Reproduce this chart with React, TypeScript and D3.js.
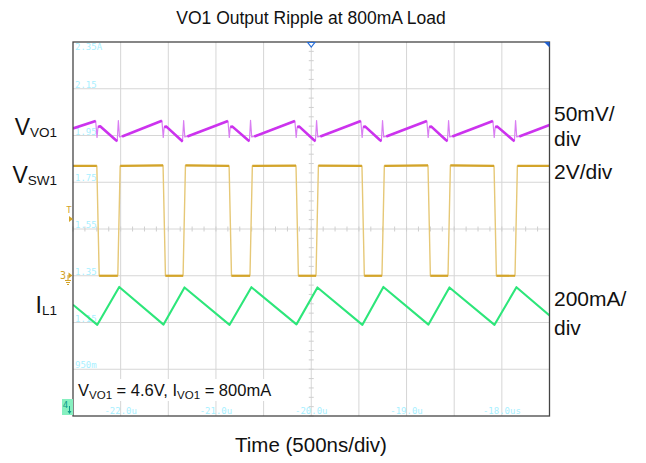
import React from "react";
import * as d3 from "d3";

// ---------- data ----------
const title = "VO1 Output Ripple at 800mA Load";
const xAxisTitle = "Time (500ns/div)";
const timeTicks = ["-22.0u", "-21.0u", "-20.0u", "-19.0u", "-18.0us"];
const timeTickDiv = [1, 3, 5, 7, 9];
const levelTicks = ["2.35A", "2.15", "1.95", "1.75", "1.55", "1.35", "1.15", "950m"];

// time window (ns)
const timeDomain = [-22500, -17500];

// switch node (V) : falling / rising edges in ns
const swFallNs = [-22250, -21555, -20862, -20160, -19468, -18775, -18082];
const swRiseNs = [-22030, -21345, -20643, -19950, -19258, -18565, -17862];
const swHighV = [4.7, 4.72, 4.7, 4.71, 4.7, 4.72, 4.7];
const swLowV = [0.0, 0.0, 0.0, 0.0, 0.0, 0.0, 0.0];

// inductor current (A)
const ilStart = [-22500, 1.226];
const ilValleyA = [1.14, 1.141, 1.14, 1.142, 1.14, 1.141, 1.14];
const ilPeakA = [1.302, 1.3, 1.301, 1.3, 1.302, 1.3, 1.301];
const ilEnd = [-17500, 1.18];

// output ripple (mV, AC): one row per switching cycle
// [peak before fall, dip spike, after fall, hump, low, min, spike up, after spike, ramp start]
const vo1Start: [number, number] = [-22500, 2.5];
const vo1Cycles: [number, number][][] = [
  [[-22262, 10.5], [-22248, -7], [-22238, 4], [-22215, 4.8], [-22055, -9.5], [-22036, -11], [-22024, 11], [-22012, -6.5], [-21985, -6]],
  [[-21567, 10.8], [-21553, -7], [-21543, 4], [-21520, 4.5], [-21370, -9.5], [-21351, -11.5], [-21339, 11], [-21327, -6.5], [-21300, -6]],
  [[-20874, 10.5], [-20860, -7], [-20850, 4], [-20827, 4.5], [-20668, -9.5], [-20649, -11], [-20637, 11.2], [-20625, -6.5], [-20598, -6]],
  [[-20172, 10.6], [-20158, -7], [-20148, 4], [-20125, 4.5], [-19975, -9.5], [-19956, -11], [-19944, 11], [-19932, -6.5], [-19905, -6]],
  [[-19480, 10.5], [-19466, -7], [-19456, 4], [-19433, 4.5], [-19283, -9.5], [-19264, -11], [-19252, 11], [-19240, -6.5], [-19213, -6]],
  [[-18787, 10.5], [-18773, -7], [-18763, 4], [-18740, 4.5], [-18590, -9.5], [-18571, -11], [-18559, 11], [-18547, -6.5], [-18520, -6]],
  [[-18094, 10.5], [-18080, -7], [-18070, 4], [-18047, 4.5], [-17887, -9.5], [-17868, -11], [-17856, 11], [-17844, -6.5], [-17817, -6]],
];
const vo1End: [number, number] = [-17500, 6.2];

// channel vertical settings
const ilDomain = [0.75, 2.35]; // 200mA/div
const swDomain = [-6, 10]; // 2V/div, zero at -1 div
const vo1Domain = [-305, 95]; // 50mV/div

// ---------- layout ----------
const W = 646;
const H = 463;
const L = 73;
const R = 549.5;
const T = 42;
const B = 416;
const FONT = "'Liberation Sans', Arial, Helvetica, sans-serif";
const MONO = "'DejaVu Sans Mono', 'Liberation Mono', monospace";

type P = [number, number];

export default function App() {
  const x = d3.scaleLinear().domain(timeDomain).range([L, R]);
  const xDiv = d3.scaleLinear().domain([0, 10]).range([L, R]);
  const yDiv = d3.scaleLinear().domain([0, 8]).range([T, B]);
  const yIL = d3.scaleLinear().domain(ilDomain).range([B, T]);
  const ySW = d3.scaleLinear().domain(swDomain).range([B, T]);
  const yVO = d3.scaleLinear().domain(vo1Domain).range([B, T]);

  // switch node trace + plateaus
  const swPts: P[] = [[timeDomain[0], swHighV[0]]];
  const swFlats: P[][] = [];
  let prev: P = [timeDomain[0], swHighV[0]];
  swFallNs.forEach((f, k) => {
    swFlats.push([prev, [f, swHighV[k]]]);
    swFlats.push([[f + 25, swLowV[k]], [swRiseNs[k], swLowV[k]]]);
    swPts.push([f, swHighV[k]], [f + 25, swLowV[k]], [swRiseNs[k], swLowV[k]], [swRiseNs[k] + 25, swHighV[k]]);
    prev = [swRiseNs[k] + 25, swHighV[k]];
  });
  swPts.push([timeDomain[1], swHighV[swHighV.length - 1]]);
  swFlats.push([prev, [timeDomain[1], swHighV[swHighV.length - 1]]]);

  const ilPts: P[] = [[ilStart[0], ilStart[1]]];
  swFallNs.forEach((f, k) => {
    ilPts.push([f + 5, ilValleyA[k]], [swRiseNs[k] + 15, ilPeakA[k]]);
  });
  ilPts.push([ilEnd[0], ilEnd[1]]);

  // output ripple: full trace and the slow ramps (drawn heavier)
  const voPts: P[] = [vo1Start];
  const voRamps: P[][] = [];
  let rampStart: P = vo1Start;
  vo1Cycles.forEach((c) => {
    voPts.push(...c);
    voRamps.push([rampStart, c[0]]);
    voRamps.push([c[2], c[3], c[4], c[5]]);
    rampStart = c[8];
  });
  voPts.push(vo1End);
  voRamps.push([rampStart, vo1End]);

  const lineSW = d3.line<P>().x((d) => x(d[0])).y((d) => ySW(d[1]));
  const lineIL = d3.line<P>().x((d) => x(d[0])).y((d) => yIL(d[1]));
  const lineVO = d3.line<P>().x((d) => x(d[0])).y((d) => yVO(d[1]));

  const vGrid = d3.range(1, 10);
  const hGrid = d3.range(1, 8);
  const cx = xDiv(5);
  const cy = yDiv(4);
  const vTicks = d3.range(0, 41).map((i) => T + (i * (B - T)) / 40);
  const hTicks = d3.range(0, 41).map((i) => L + (i * (R - L)) / 40);

  return (
    <svg width={W} height={H} style={{ position: "absolute", left: 0, top: 0, background: "#fff" }} fontFamily={FONT}>
      <defs>
        <clipPath id="plotClip">
          <rect x={L} y={T} width={R - L} height={B - T} />
        </clipPath>
      </defs>
      <rect x={0} y={0} width={W} height={H} fill="#fff" />

      {/* grid */}
      {vGrid.map((i) => (
        <line key={"v" + i} x1={xDiv(i)} x2={xDiv(i)} y1={T} y2={B} stroke="#d6d6d6" strokeWidth={1} />
      ))}
      {hGrid.map((j) => (
        <line key={"h" + j} x1={L} x2={R} y1={yDiv(j)} y2={yDiv(j)} stroke="#d6d6d6" strokeWidth={1} />
      ))}
      {vTicks.map((y, i) => (
        <line key={"vt" + i} x1={cx - 2.5} x2={cx + 2.5} y1={y} y2={y} stroke="#cfcfcf" strokeWidth={1} />
      ))}
      {hTicks.map((xx, i) => (
        <line key={"ht" + i} x1={xx} x2={xx} y1={cy - 2.5} y2={cy + 2.5} stroke="#cfcfcf" strokeWidth={1} />
      ))}

      {/* level labels */}
      {levelTicks.map((t, j) => (
        <text key={"lv" + j} x={L + 2} y={j === 0 ? T + 8 : yDiv(j) - 1} fontFamily={MONO} fontSize={9} fill="#a8f0ff">
          {t}
        </text>
      ))}
      {timeTicks.map((t, i) => (
        <text key={"tt" + i} x={xDiv(timeTickDiv[i])} y={B - 2} fontFamily={MONO} fontSize={9} fill="#a8f0ff" textAnchor="middle">
          {t}
        </text>
      ))}

      {/* annotation background */}
      <rect x={75} y={379} width={201} height={22} fill="#fff" />

      {/* traces */}
      <g clipPath="url(#plotClip)" fill="none" strokeLinejoin="round">
        <path d={lineSW(swPts) || ""} stroke="#e6c877" strokeWidth={1.4} />
        {swFlats.map((s, i) => (
          <path key={"sf" + i} d={lineSW(s) || ""} stroke="#d3a42a" strokeWidth={2.2} />
        ))}
        <path d={lineIL(ilPts) || ""} stroke="#2de67a" strokeWidth={2.1} />
        <path d={lineVO(voPts) || ""} stroke="#d97ef2" strokeWidth={1.2} />
        {voRamps.map((s, i) => (
          <path key={"vr" + i} d={lineVO(s) || ""} stroke="#cc33ee" strokeWidth={2.6} />
        ))}
      </g>

      {/* border */}
      <rect x={L} y={T} width={R - L} height={B - T} fill="none" stroke="#454545" strokeWidth={1.3} />

      {/* markers */}
      <polygon points={`${cx - 3.5},${T + 0.5} ${cx + 3.5},${T + 0.5} ${cx},${T + 5}`} fill="#fff" stroke="#2a6fd6" strokeWidth={1.2} />
      <polygon points={`${R - 5.5},${T} ${R},${T} ${R},${T + 5.5}`} fill="#1f5fd0" />
      <text x={69} y={213} fontFamily={MONO} fontSize={9} fill="#d3a42a" textAnchor="middle">T</text>
      <polygon points="69,216 73,219 69,222" fill="#d3a42a" />
      <text x={63} y={278.5} fontFamily={MONO} fontSize={10} fill="#d3a42a" textAnchor="middle">3</text>
      <polygon points="68.5,272.5 72.5,275.5 68.5,278.5" fill="#d3a42a" />
      <line x1={68} x2={68} y1={275} y2={280} stroke="#d3a42a" strokeWidth={1} />
      <line x1={65} x2={71} y1={280.5} y2={280.5} stroke="#d3a42a" strokeWidth={1} />
      <line x1={66} x2={70} y1={282.5} y2={282.5} stroke="#d3a42a" strokeWidth={1} />
      <line x1={67} x2={69} y1={284.5} y2={284.5} stroke="#d3a42a" strokeWidth={1} />
      <rect x={62} y={399} width={11} height={16} fill="#86f0c0" />
      <text x={65.5} y={408} fontFamily={MONO} fontSize={9} fill="#109a8a" textAnchor="middle">4</text>
      <line x1={69.5} x2={69.5} y1={406} y2={413} stroke="#109a8a" strokeWidth={1} />
      <polygon points="67.5,411 71.5,411 69.5,414" fill="#109a8a" />

      {/* titles */}
      <text x={311} y={24} fontSize={17.5} textAnchor="middle" fill="#111">{title}</text>
      <text x={311} y={452} fontSize={20.5} textAnchor="middle" fill="#111">{xAxisTitle}</text>

      {/* left labels */}
      <text x={57} y={135} fontSize={23} textAnchor="end" fill="#111">
        V<tspan fontSize={13.5} dy={2}>VO1</tspan>
      </text>
      <text x={57} y={183} fontSize={23} textAnchor="end" fill="#111">
        V<tspan fontSize={13.5} dy={2}>SW1</tspan>
      </text>
      <text x={57} y={313} fontSize={23} textAnchor="end" fill="#111">
        I<tspan fontSize={13.5} dy={2}>L1</tspan>
      </text>

      {/* right labels */}
      <text x={554} y={121} fontSize={21} fill="#111">50mV/</text>
      <text x={554} y={146} fontSize={21} fill="#111">div</text>
      <text x={554} y={179} fontSize={21} fill="#111">2V/div</text>
      <text x={554} y={306} fontSize={21} fill="#111">200mA/</text>
      <text x={554} y={335} fontSize={21} fill="#111">div</text>

      {/* annotation */}
      <text x={78} y={396} fontSize={16.5} fill="#111">
        V<tspan fontSize={11.5} dy={2.5}>VO1</tspan>
        <tspan dy={-2.5}> = 4.6V, I</tspan>
        <tspan fontSize={11.5} dy={2.5}>VO1</tspan>
        <tspan dy={-2.5}> = 800mA</tspan>
      </text>
    </svg>
  );
}
